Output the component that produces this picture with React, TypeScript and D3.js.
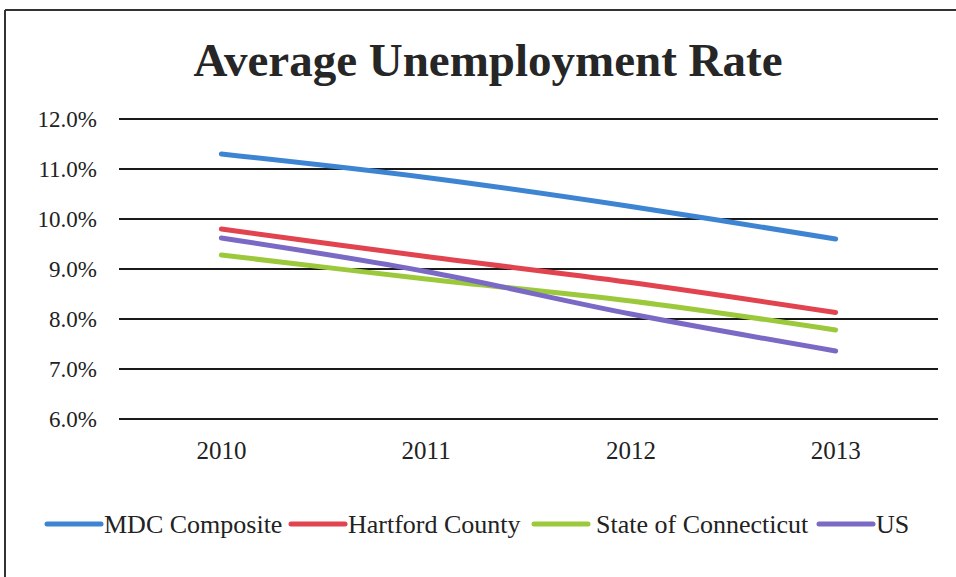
import React from "react";
import * as d3 from "d3";

const years = ["2010", "2011", "2012", "2013"];
const seriesNames = ["MDC Composite", "Hartford County", "State of Connecticut", "US"];
const mdc = [11.3, 10.83, 10.25, 9.6];
const hartford = [9.8, 9.25, 8.73, 8.13];
const connecticut = [9.28, 8.8, 8.36, 7.78];
const us = [9.62, 8.95, 8.1, 7.36];
const yTicks = [6, 7, 8, 9, 10, 11, 12];
const colors = ["#3d85d3", "#e1434f", "#9cc93b", "#7a69c5"];

const W = 956;
const H = 577;
const FONT = "'Liberation Serif', 'Times New Roman', serif";

export default function App() {
  const allSeries = [mdc, hartford, connecticut, us];
  const x = d3.scaleBand<string>().domain(years).range([119, 938]);
  const y = d3.scaleLinear().domain([6, 12]).range([419, 119]);
  const line = d3
    .line<number>()
    .x((_, i) => (x(years[i]) as number) + x.bandwidth() / 2)
    .y((v) => y(v))
    .curve(d3.curveCatmullRom.alpha(0.5));

  const legendItems = [
    { x0: 47, tx: 104 },
    { x0: 291, tx: 348 },
    { x0: 534, tx: 596 },
    { x0: 819, tx: 876 },
  ];

  return (
    <svg
      width={W}
      height={H}
      style={{ position: "absolute", left: 0, top: 0, background: "#fff" }}
    >
      <rect x={0} y={0} width={W} height={H} fill="#fff" />
      {/* frame */}
      <line x1={5} y1={10} x2={W} y2={10} stroke="#333" strokeWidth={2} />
      <line x1={5} y1={10} x2={5} y2={H} stroke="#333" strokeWidth={2} />
      {/* title */}
      <text
        x={488}
        y={76}
        textAnchor="middle"
        fontFamily={FONT}
        fontWeight="bold"
        fontSize={47}
        fill="#262626"
      >
        Average Unemployment Rate
      </text>
      {/* gridlines */}
      {yTicks.map((t) => (
        <g key={t}>
          <line x1={119} x2={938} y1={y(t)} y2={y(t)} stroke="#1a1a1a" strokeWidth={2} />
          <text
            x={97}
            y={y(t) + 8}
            textAnchor="end"
            fontFamily={FONT}
            fontSize={23}
            fill="#222"
          >
            {t.toFixed(1) + "%"}
          </text>
        </g>
      ))}
      {/* x labels */}
      {years.map((yr) => (
        <text
          key={yr}
          x={(x(yr) as number) + x.bandwidth() / 2}
          y={459}
          textAnchor="middle"
          fontFamily={FONT}
          fontSize={25}
          fill="#222"
        >
          {yr}
        </text>
      ))}
      {/* series */}
      {allSeries.map((s, i) => (
        <path
          key={i}
          d={line(s) as string}
          fill="none"
          stroke={colors[i]}
          strokeWidth={5}
          strokeLinecap="round"
          strokeLinejoin="round"
        />
      ))}
      {/* legend */}
      {seriesNames.map((n, i) => (
        <g key={n}>
          <line
            x1={legendItems[i].x0}
            x2={legendItems[i].x0 + 54}
            y1={524}
            y2={524}
            stroke={colors[i]}
            strokeWidth={5}
            strokeLinecap="round"
          />
          <text
            x={legendItems[i].tx}
            y={533}
            fontFamily={FONT}
            fontSize={26}
            fill="#222"
          >
            {n}
          </text>
        </g>
      ))}
    </svg>
  );
}
